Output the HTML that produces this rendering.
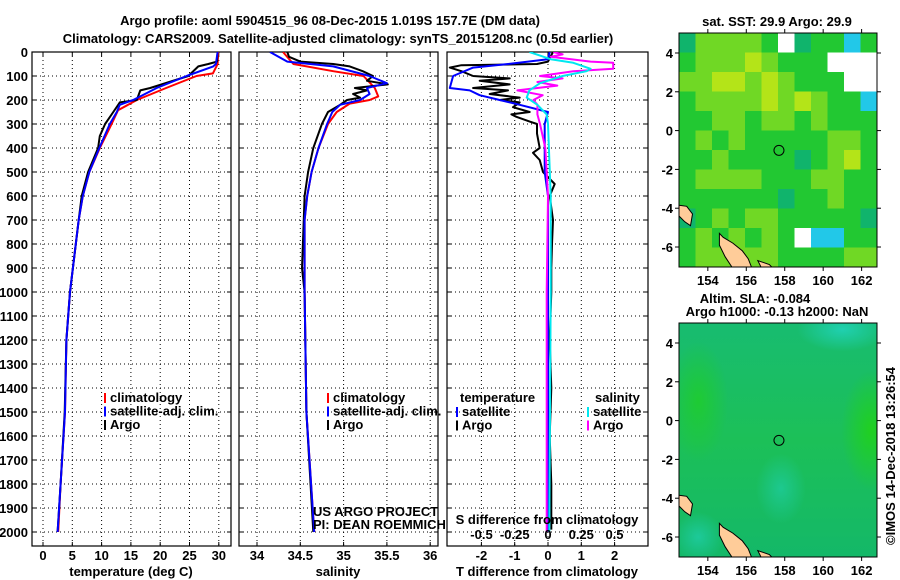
<!DOCTYPE html>
<html><head><meta charset="utf-8">
<style>
html,body{margin:0;padding:0;background:#fff;}
svg{display:block;font-family:"Liberation Sans",sans-serif;}
.b{font-weight:bold;font-size:13px;}
</style></head>
<body>
<svg id="c" width="900" height="580" viewBox="0 0 900 580"></svg>
<script>
// ---------- DATA ----------
const tempDepthClim = [0,50,89,100,150,200,243,300,400,500,600,700,800,900,1000,1200,1500,1800,2000];
const tempClim      = [29.9,29.8,29,26.2,21,16,12.8,11.7,9.7,7.9,6.8,6.1,5.6,5.1,4.6,4.0,3.75,3.0,2.6];
const tempDepthSat  = [0,50,61,100,150,200,220,250,300,400,500,600,700,800,900,1000,1200,1500,1800,2000];
const tempSat       = [29.8,29.5,29,24.5,19.4,15.4,13.1,12.6,11.4,9.6,7.9,6.8,6.1,5.6,5.1,4.6,4.0,3.75,3.0,2.5];
const tempDepthArgo = [0,40,50,60,100,150,160,200,210,250,300,350,400,500,600,700,800,900,1000,1200,1500,1800,2000];
const tempArgo      = [29.8,29.7,28.2,26.5,24.8,18.3,16.6,16,13.1,12,10.6,9.7,9.4,7.7,6.6,6.1,5.6,5.1,4.6,4.0,3.7,3.0,2.5];

const salDepthClim = [0,50,80,100,150,185,200,215,250,300,400,500,600,700,1000,1500,2000];
const salClim      = [34.30,34.42,34.88,35.23,35.36,35.40,35.30,35.07,34.92,34.82,34.71,34.63,34.58,34.55,34.55,34.57,34.66];
const salDepthSat  = [0,40,60,100,130,150,175,200,220,250,300,400,500,600,700,1000,1500,2000];
const salSat       = [34.15,34.35,34.88,35.30,35.50,35.27,35.30,35.19,34.96,34.87,34.81,34.71,34.63,34.58,34.55,34.55,34.57,34.66];
const salDepthArgo = [0,20,40,50,60,80,100,120,135,150,160,175,190,200,220,250,300,400,500,600,800,900,1000,1500,2000];
const salArgo      = [34.35,34.37,34.50,34.88,35.07,35.22,35.34,35.27,35.51,35.13,35.27,35.11,35.19,35.04,34.96,34.82,34.75,34.65,34.59,34.55,34.53,34.52,34.55,34.57,34.65];

const dDepthArgoT = [0,40,50,55,65,80,100,110,120,135,150,160,175,190,200,210,230,250,260,270,290,300,340,400,420,450,500,550,600,700,800,900,1000,1200,1400,1600,1800,1990];
const dArgoT      = [0.15,0,-0.33,-2.6,-2.95,-2.6,-2.25,-1.15,-2.05,-1.15,-2.25,-1.2,-1.75,-0.85,-1.45,-0.85,-1.05,-0.55,-1.1,-0.95,-0.55,-0.33,-0.33,-0.25,-0.45,-0.25,-0.15,0.2,0.05,0.15,0.12,0.1,0.1,0.05,0.1,0.05,0.1,0.1];
const dDepthSatT  = [0,30,50,65,100,150,160,180,200,220,250,300,400,500,600,800,2000];
const dSatT       = [0.05,0,-1.2,-2.25,-2.85,-2.95,-2.35,-2.05,-1.45,-0.85,0,-0.1,-0.1,-0.1,0,0,0];
const dDepthSatS  = [0,15,30,45,70,80,100,130,160,190,220,260,300,600,1000,2000];
const dSatS       = [-0.14,-0.06,0.02,0.19,0.32,0.29,0.11,-0.06,-0.14,-0.16,-0.08,-0.01,0,0.02,0.02,0.01];
const dDepthArgoS = [0,10,20,40,45,70,80,100,110,125,140,160,180,200,220,260,300,400,500,600,1000,2000];
const dArgoS      = [0.04,0.11,0.02,0.32,0.49,0.49,0.19,-0.06,0.11,-0.08,0.07,-0.23,-0.04,-0.11,-0.08,-0.08,-0.06,-0.02,-0.01,0,-0.01,-0.01];

const depthTicks = [0,100,200,300,400,500,600,700,800,900,1000,1100,1200,1300,1400,1500,1600,1700,1800,1900,2000];
const tempTicks = [0,5,10,15,20,25,30];
const salTicks = [34,34.5,35,35.5,36];
const salTickLabels = ["34","34.5","35","35.5","36"];
const tdTicks = [-2,-1,0,1,2];
const sdTicks = [-0.5,-0.25,0,0.25,0.5];
const sdTickLabels = ["-0.5","-0.25","0","0.25","0.5"];
const lonTicks = [154,156,158,160,162];
const latTicks = [4,2,0,-2,-4,-6];
const argoLon = 157.7, argoLat = -1.019;

// coarse SST map colour grid (rows 5N -> 7S, cols 152.6E -> 162.8E)
const sstGrid = [
 "tllllgwtggcg",
 "glllylgggwww",
 "llyylylgggww",
 "gllllylylggc",
 "ggllgllglggg",
 "glglgggggllg",
 "gglggggtglyg",
 "gllllgggllgg",
 "ggggggtgglgg",
 "tglgllgggggt",
 "glglglgwccgg",
 "glllllggggll"
];
const sstColors = {g:"#22c832",l:"#70d825",y:"#b4e418",t:"#10b46c",w:"#ffffff",c:"#22c8e8"};

// ---------- DRAW ----------
const NS="http://www.w3.org/2000/svg";
const svg=document.getElementById('c');
function mk(tag,attrs,parent){const e=document.createElementNS(NS,tag);for(const k in attrs)e.setAttribute(k,attrs[k]);(parent||svg).appendChild(e);return e;}
function txt(x,y,s,anchor,cls,parent,extra){const e=mk('text',Object.assign({x:x,y:y,'text-anchor':anchor||'middle','class':cls||'b'},extra||{}),parent);e.textContent=s;return e;}

const Y0=52, PXM=0.24, YB=546;
const yD=d=>Y0+d*PXM;
const panels=[
 {x0:32,x1:231,name:'temperature-panel'},
 {x0:239,x1:438,name:'salinity-panel'},
 {x0:447,x1:648,name:'difference-panel'}];
const xT=t=>43+t*5.86;
const xS=s=>257+(s-34)*86.6;
const xTD=t=>548+t*33.3;
const xSD=s=>548+s*133;

// titles
let t1=txt(330,25,"Argo profile: aoml 5904515_96 08-Dec-2015 1.019S 157.7E (DM data)");
t1.setAttribute('font-size','14.5');
let t2=txt(338,43,"Climatology: CARS2009. Satellite-adjusted climatology: synTS_20151208.nc (0.5d earlier)");
t2.setAttribute('font-size','14.5');

// depth labels
const yl=mk('g',{});

depthTicks.forEach(d=>txt(28,yD(d)+5,String(d),'end','b',yl));

function gridPanel(p,xticks,xf){
  const g=mk('g',{});
  
  const cp='clip-'+p.name;
  const cpe=mk('clipPath',{id:cp},g);mk('rect',{x:p.x0,y:Y0,width:p.x1-p.x0,height:YB-Y0},cpe);
  depthTicks.forEach(d=>{ if(d>0) mk('line',{x1:p.x0,x2:p.x1,y1:yD(d),y2:yD(d),stroke:'#000','stroke-width':1,'stroke-dasharray':'1,3'},g);
    mk('line',{x1:p.x0,x2:p.x0+4,y1:yD(d),y2:yD(d),stroke:'#000'},g);mk('line',{x1:p.x1-4,x2:p.x1,y1:yD(d),y2:yD(d),stroke:'#000'},g);});
  xticks.forEach(v=>{const x=xf(v);mk('line',{x1:x,x2:x,y1:Y0,y2:YB,stroke:'#000','stroke-dasharray':'1,3'},g);
    mk('line',{x1:x,x2:x,y1:YB-4,y2:YB,stroke:'#000'},g);mk('line',{x1:x,x2:x,y1:Y0,y2:Y0+4,stroke:'#000'},g);});
  mk('rect',{x:p.x0,y:Y0,width:p.x1-p.x0,height:YB-Y0,fill:'none',stroke:'#000','stroke-width':1.2},g);
  return {g:g,clip:'url(#'+cp+')'};
}
function line(G,depths,vals,xf,color,name,w){
  const pts=depths.map((d,i)=>xf(vals[i]).toFixed(1)+','+yD(d).toFixed(1)).join(' ');
  const e=mk('polyline',{points:pts,fill:'none',stroke:color,'stroke-width':w||2,'clip-path':G.clip,'stroke-linejoin':'round'},G.g);
  
}
function legend(G,x,y,items){
  items.forEach((it,i)=>{const yy=y+i*13.5;
    mk('rect',{x:x,y:yy-9,width:2,height:10,fill:it[1]},G.g);
    const t=txt(x+6,yy,it[0],'start','b',G.g);
    
  });
}

// panel 1
let P=gridPanel(panels[0],tempTicks,xT);
line(P,tempDepthClim,tempClim,xT,'#ff0000','temp-climatology-line');
line(P,tempDepthArgo,tempArgo,xT,'#000000','temp-argo-line');
line(P,tempDepthSat,tempSat,xT,'#0000ff','temp-satellite-line');
tempTicks.forEach(v=>txt(xT(v),560,String(v),'middle','b',P.g));
let at=txt(131,576,"temperature (deg C)",'middle','b',P.g);
legend(P,104,402,[["climatology","#ff0000","climatology"],["satellite-adj. clim.","#0000ff","satellite"],["Argo","#000","argo"]]);

// panel 2
P=gridPanel(panels[1],salTicks,xS);
line(P,salDepthClim,salClim,xS,'#ff0000','sal-climatology-line');
line(P,salDepthArgo,salArgo,xS,'#000000','sal-argo-line');
line(P,salDepthSat,salSat,xS,'#0000ff','sal-satellite-line');
salTicks.forEach((v,i)=>txt(xS(v),560,salTickLabels[i],'middle','b',P.g));
at=txt(338,576,"salinity",'middle','b',P.g);
legend(P,327,402,[["climatology","#ff0000","sal-climatology"],["satellite-adj. clim.","#0000ff","sal-satellite"],["Argo","#000","sal-argo"]]);
let cr=mk('g',{},P.g);
txt(313,516,"US ARGO PROJECT",'start','',cr,{'font-size':11});
txt(313,529,"PI: DEAN ROEMMICH",'start','',cr,{'font-size':11});

// panel 3
P=gridPanel(panels[2],tdTicks,xTD);
line(P,dDepthArgoT,dArgoT,xTD,'#000000','tdiff-argo-line');
line(P,dDepthSatT,dSatT,xTD,'#0000ff','tdiff-satellite-line');
line(P,dDepthArgoS,dArgoS,xSD,'#ff00ff','sdiff-argo-line');
line(P,dDepthSatS,dSatS,xSD,'#00e8f0','sdiff-satellite-line');
tdTicks.forEach(v=>txt(xTD(v),560,String(v),'middle','b',P.g));
sdTicks.forEach((v,i)=>txt(xSD(v),539,sdTickLabels[i],'middle','b',P.g));
at=txt(547,524,"S difference from climatology",'middle','b',P.g);
at=txt(547,576,"T difference from climatology",'middle','b',P.g);
txt(460,402,"temperature",'start','b',P.g);
legend(P,456,416,[["satellite","#0000ff","tdiff-satellite"],["Argo","#000","tdiff-argo"]]);
txt(595,402,"salinity",'start','b',P.g);
legend(P,587,416,[["satellite","#00e8f0","sdiff-satellite"],["Argo","#ff00ff","sdiff-argo"]]);

// ---------- MAPS ----------
const MX0=679,MX1=877,LON0=152.5,LON1=162.8;
const mx=l=>MX0+(l-LON0)*(MX1-MX0)/(LON1-LON0);
function mapFrame(top,name){
  const MY0=top,MY1=top+234;
  const my=l=>MY0+(5.03-l)*(MY1-MY0)/12.06;
  const g=mk('g',{});
  const cid='clip-'+name;const c=mk('clipPath',{id:cid},g);mk('rect',{x:MX0,y:MY0,width:MX1-MX0,height:MY1-MY0},c);
  return {g:g,my:my,MY0:MY0,MY1:MY1,clip:'url(#'+cid+')'};
}
function mapDecor(M){
  const coast=[[[152.5,-3.85],[152.9,-3.9],[153.2,-4.3],[153.1,-4.9],[152.8,-4.7],[152.5,-4.4]],
               [[154.6,-5.3],[154.8,-5.5],[155.3,-5.8],[155.8,-6.2],[156.1,-6.6],[156.3,-7.1],[155.3,-7.1],[154.9,-6.5],[154.6,-5.9]],
               [[156.6,-6.7],[157.2,-6.9],[157.4,-7.1],[156.8,-7.1]]];
  coast.forEach(poly=>{const e=mk('polygon',{points:poly.map(p=>mx(p[0]).toFixed(1)+','+M.my(p[1]).toFixed(1)).join(' '),fill:'#ffcc99',stroke:'#000','stroke-width':1,'clip-path':M.clip},M.g);
    });
  const ci=mk('circle',{cx:mx(argoLon),cy:M.my(argoLat),r:5,fill:'none',stroke:'#000','stroke-width':1},M.g);
  
  mk('rect',{x:MX0,y:M.MY0,width:MX1-MX0,height:M.MY1-M.MY0,fill:'none',stroke:'#000','stroke-width':1},M.g);
  lonTicks.forEach(l=>{const x=mx(l);mk('line',{x1:x,x2:x,y1:M.MY0-4,y2:M.MY0,stroke:'#000'},M.g);mk('line',{x1:x,x2:x,y1:M.MY1,y2:M.MY1+4,stroke:'#000'},M.g);
    txt(x,M.MY1+18,String(l),'middle','b',M.g);});
  latTicks.forEach(l=>{const y=M.my(l);mk('line',{x1:MX0-4,x2:MX0,y1:y,y2:y,stroke:'#000'},M.g);mk('line',{x1:MX1,x2:MX1+4,y1:y,y2:y,stroke:'#000'},M.g);
    txt(673,y+5,String(l),'end','b',M.g);});
}
// SST map
let M=mapFrame(33,'sst-map');
const rows=sstGrid.length, cols=12;
sstGrid.forEach((row,r)=>{for(let c=0;c<cols;c++){const ch=row[c]||'g';
  const lo=LON0+c*(LON1-LON0)/cols, la=5.03-r*12.06/rows;
  const x=mx(lo),y=M.my(la),w=mx(lo+(LON1-LON0)/cols)-x,h=M.my(la-12.06/rows)-y;
  const e=mk('rect',{x:x.toFixed(1),y:y.toFixed(1),width:(w+0.5).toFixed(1),height:(h+0.5).toFixed(1),fill:sstColors[ch],'clip-path':M.clip},M.g);
  }});
mapDecor(M);
let mt=txt(777,26,"sat. SST: 29.9 Argo: 29.9");

// SLA map
M=mapFrame(323,'sla-map');
const defs=mk('defs',{});
const lg=mk('linearGradient',{id:'slag',x1:0,y1:0,x2:0,y2:1},defs);
mk('stop',{offset:'0','stop-color':'#18bc70'},lg);mk('stop',{offset:'0.5','stop-color':'#1cc058'},lg);mk('stop',{offset:'1','stop-color':'#14b868'},lg);
const rg=mk('radialGradient',{id:'slat'},defs);mk('stop',{offset:'0','stop-color':'#20d0b0'},rg);mk('stop',{offset:'1','stop-color':'#20d0b0','stop-opacity':0},rg);
const rgg=mk('radialGradient',{id:'slagr'},defs);mk('stop',{offset:'0','stop-color':'#20d020'},rgg);mk('stop',{offset:'1','stop-color':'#20d020','stop-opacity':0},rgg);
let bg=mk('rect',{x:MX0,y:M.MY0,width:MX1-MX0,height:234,fill:'url(#slag)'},M.g);
mk('ellipse',{cx:mx(161),cy:M.my(4.7),rx:45,ry:22,fill:'url(#slat)','clip-path':M.clip},M.g);
mk('ellipse',{cx:mx(157.8),cy:M.my(-3.5),rx:25,ry:35,fill:'url(#slat)',opacity:0.6,'clip-path':M.clip},M.g);
mk('ellipse',{cx:mx(153.5),cy:M.my(-6),rx:25,ry:25,fill:'url(#slat)',opacity:0.7,'clip-path':M.clip},M.g);
mk('ellipse',{cx:mx(162.5),cy:M.my(-0.5),rx:30,ry:60,fill:'url(#slagr)','clip-path':M.clip},M.g);
mk('ellipse',{cx:mx(153.5),cy:M.my(1),rx:30,ry:60,fill:'url(#slagr)',opacity:0.7,'clip-path':M.clip},M.g);
mapDecor(M);
mt=txt(755,303,"Altim. SLA: -0.084");
mt=txt(777,316,"Argo h1000: -0.13 h2000: NaN");
let im=txt(0,0,"©IMOS 14-Dec-2018 13:26:54",'middle','',null,{'font-size':12,transform:'translate(895,456) rotate(-90)'});

</script>
</body></html>
